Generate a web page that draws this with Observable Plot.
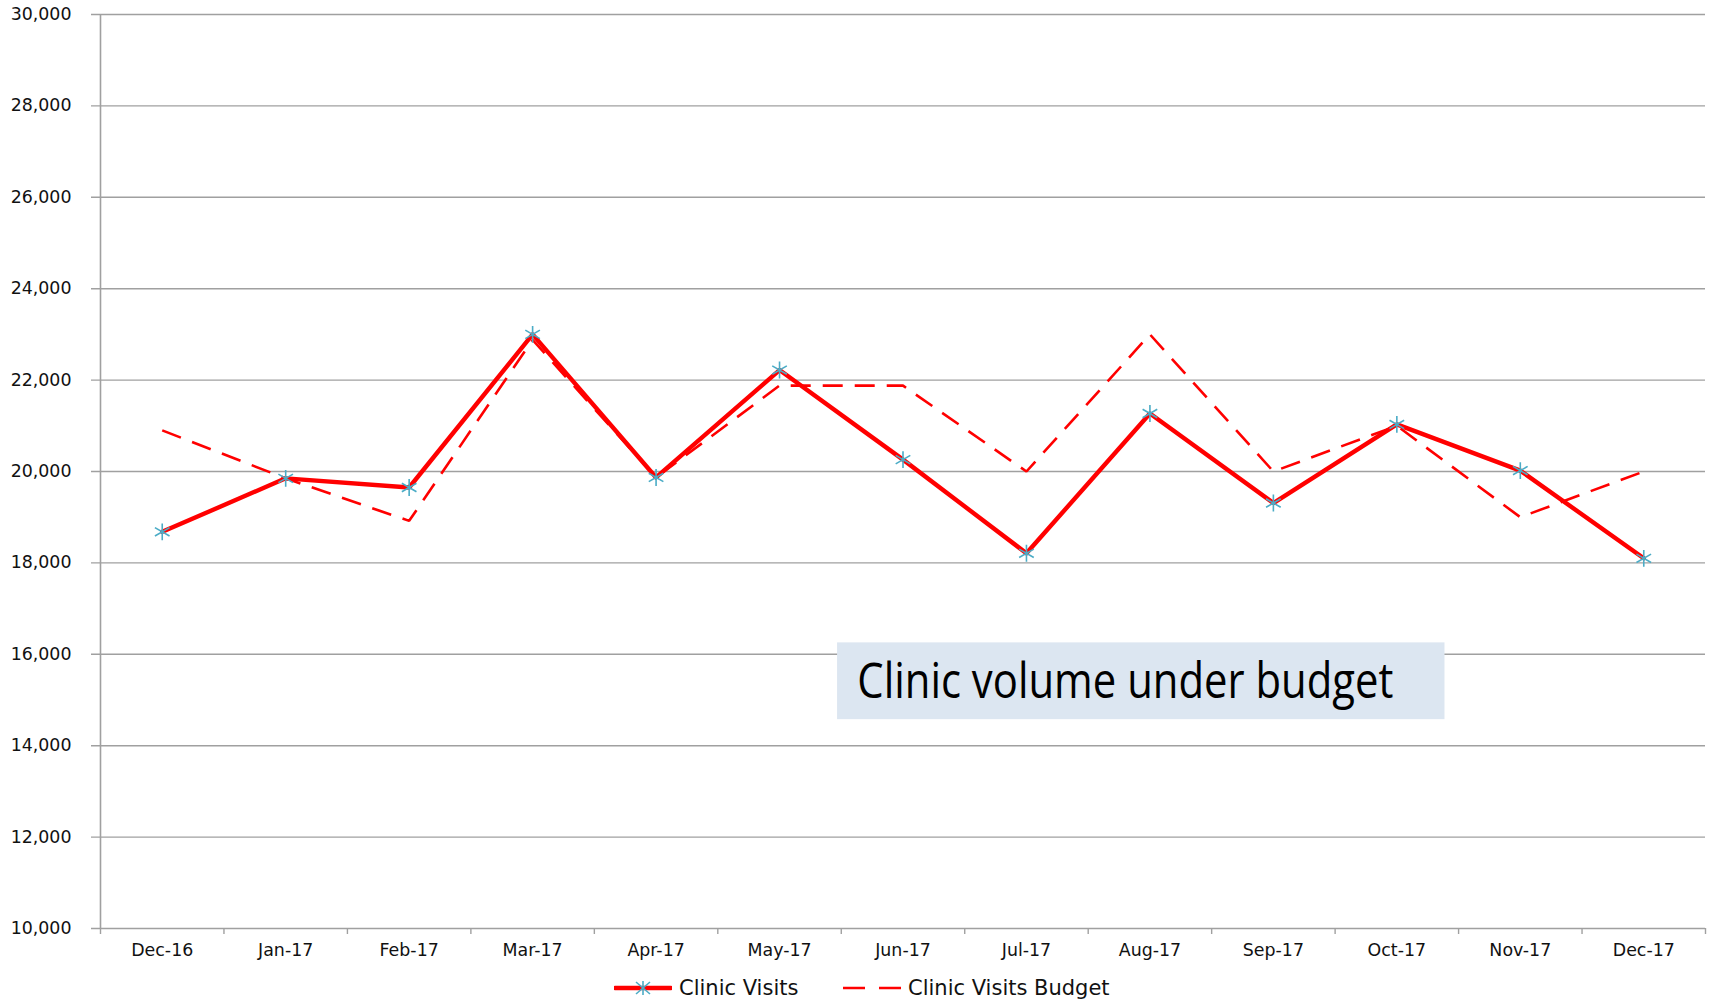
<!DOCTYPE html>
<html>
<head>
<meta charset="utf-8">
<script src="https://cdn.jsdelivr.net/npm/d3@7"></script>
<script src="https://cdn.jsdelivr.net/npm/@observablehq/plot@0.6"></script>
<style>
  html, body { margin: 0; padding: 0; background: #fff; }
  #chart { width: 1717px; height: 1001px; position: relative; }
  .legend { position: absolute; left: 0; top: 974px; width: 1717px; height: 28px; font-family: "DejaVu Sans", sans-serif; font-size: 21px; color: #111; }
  .legend .item { position: absolute; top: 0; display: flex; align-items: center; height: 28px; }
  .legend svg { margin-right: 7px; }
</style>
</head>
<body>
<div id="chart"></div>
<script>
const months = ["Dec-16","Jan-17","Feb-17","Mar-17","Apr-17","May-17","Jun-17","Jul-17","Aug-17","Sep-17","Oct-17","Nov-17","Dec-17"];
const clinicVisits = [18680, 19850, 19650, 23000, 19870, 22220, 20260, 18210, 21270, 19310, 21030, 20020, 18100];
const clinicBudget = [20900, 19850, 18920, 22880, 19870, 21880, 21880, 20000, 23000, 20000, 21000, 19000, 20000];
const yTicks = [10000, 12000, 14000, 16000, 18000, 20000, 22000, 24000, 26000, 28000, 30000];
const annotation = [{x1: 5.47, x2: 10.39, y1: 14570, y2: 16250, tx: 5.63, ty: 15400, label: "Clinic volume under budget"}];

const idx = months.map((m, i) => i);
const boundaries = d3.range(-0.5, months.length, 1);
const visits = months.map((m, i) => ({i, v: clinicVisits[i]}));
const budget = months.map((m, i) => ({i, v: clinicBudget[i]}));

const grid = "#a0a0a0";
const red = "#ff0000";
const teal = "#4bacc6";

const plot = Plot.plot({
  width: 1717,
  height: 972,
  marginTop: 14,
  marginLeft: 100,
  marginRight: 12,
  marginBottom: 44,
  style: {fontFamily: "DejaVu Sans, sans-serif", fontSize: "17.4px", color: "#111", background: "#fff"},
  x: {type: "linear", domain: [-0.5, months.length - 0.5]},
  y: {type: "linear", domain: [10000, 30000]},
  marks: [
    Plot.gridY(yTicks, {stroke: grid, strokeOpacity: 1, strokeWidth: 1.4, insetLeft: -9}),
    Plot.ruleX([-0.5], {y1: 10000, y2: 30000, stroke: grid, strokeWidth: 1.6}),
    Plot.axisY({ticks: yTicks, tickFormat: d3.format(","), tickSize: 0, tickPadding: 29, fill: "#111"}),
    Plot.axisX({ticks: boundaries, tickFormat: () => "", tickSize: 6, stroke: grid, strokeWidth: 1.4}),
    Plot.axisX({ticks: idx, tickFormat: i => months[i], tickSize: 0, tickPadding: 15, fill: "#111"}),
    Plot.rect(annotation, {x1: "x1", x2: "x2", y1: "y1", y2: "y2", fill: "#dce6f1"}),
    Plot.text(annotation, {x: "tx", y: "ty", text: "label", textAnchor: "start", fontSize: 50, fontFamily: "Open Sans, sans-serif", fill: "#000"}),
    Plot.line(budget, {x: "i", y: "v", stroke: red, strokeWidth: 2.6, strokeDasharray: "20,12", strokeLinejoin: "miter", strokeLinecap: "butt"}),
    Plot.line(visits, {x: "i", y: "v", stroke: red, strokeWidth: 4.4, strokeLinejoin: "round"}),
    Plot.dot(visits, {x: "i", y: "v", symbol: "asterisk", r: 8, stroke: teal, strokeWidth: 1.6})
  ]
});

d3.select(plot).selectAll("g[aria-label='text'] text").attr("textLength", 536).attr("lengthAdjust", "spacingAndGlyphs");

const chart = document.getElementById("chart");
chart.appendChild(plot);

const legend = document.createElement("div");
legend.className = "legend";
legend.innerHTML = `
  <div class="item" style="left:614px">
    <svg width="58" height="16"><line x1="1" y1="8" x2="57" y2="8" stroke="${red}" stroke-width="4.5" stroke-linecap="round"/>
    <g stroke="${teal}" stroke-width="1.6"><line x1="29" y1="1" x2="29" y2="15"/><line x1="22" y1="2" x2="36" y2="14"/><line x1="22" y1="14" x2="36" y2="2"/></g></svg>
    <span>Clinic Visits</span>
  </div>
  <div class="item" style="left:843px">
    <svg width="58" height="16"><line x1="0" y1="8" x2="58" y2="8" stroke="${red}" stroke-width="2.6" stroke-dasharray="22,14"/></svg>
    <span>Clinic Visits Budget</span>
  </div>`;
chart.appendChild(legend);
</script>
</body>
</html>
